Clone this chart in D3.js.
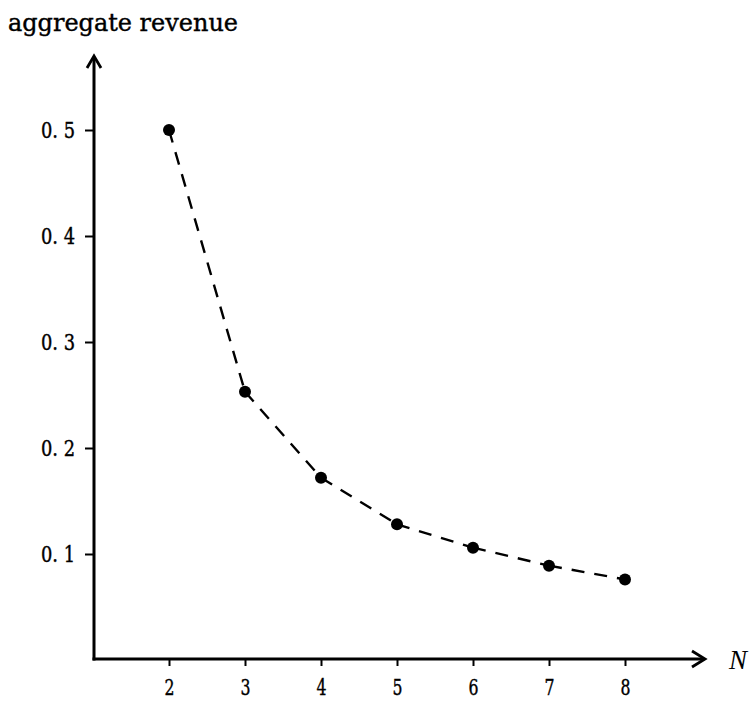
<!DOCTYPE html>
<html><head><meta charset="utf-8">
<script src="https://cdn.jsdelivr.net/npm/d3@7"></script>
<style>body{margin:0;background:#fff}svg{display:block}</style>
</head><body>
<script>
const nValues = [2, 3, 4, 5, 6, 7, 8];
const revenue = [0.5, 0.253, 0.172, 0.128, 0.106, 0.089, 0.076];
const yTicks = [0.1, 0.2, 0.3, 0.4, 0.5];
const yTickLabels = ["0. 1", "0. 2", "0. 3", "0. 4", "0. 5"];
const yTitle = "aggregate revenue";
const xTitle = "N";

const W = 755, H = 709;
const svg = d3.select("body").append("svg").attr("width", W).attr("height", H);
const x = d3.scaleLinear().domain([2, 8]).range([169, 625]);
const y = d3.scaleLinear().domain([0, 0.5]).range([660, 130]);
const x0 = 94, y0 = 659;

const font = "'DejaVu Serif Condensed', 'Liberation Serif', serif";

// axes lines
svg.append("line").attr("x1", x0).attr("y1", y0 + 1.5).attr("x2", x0).attr("y2", 57)
  .attr("stroke", "#000").attr("stroke-width", 3);
svg.append("line").attr("x1", x0 - 1.5).attr("y1", y0).attr("x2", 704).attr("y2", y0)
  .attr("stroke", "#000").attr("stroke-width", 3);
// arrowheads
svg.append("path").attr("d", `M${x0-7},${68} L${x0},${56} L${x0+7},${68}`)
  .attr("fill", "none").attr("stroke", "#000").attr("stroke-width", 2.8);
svg.append("path").attr("d", `M${692},${y0-8} L${705},${y0} L${692},${y0+8}`)
  .attr("fill", "none").attr("stroke", "#000").attr("stroke-width", 2.8);

// y axis ticks via d3 axis
const yAxis = d3.axisLeft(y).tickValues(yTicks).tickSize(9).tickPadding(10)
  .tickFormat((d, i) => yTickLabels[i]);
const gy = svg.append("g").attr("transform", `translate(${x0},0)`).call(yAxis);
gy.select(".domain").remove();
gy.selectAll(".tick line").attr("stroke", "#000").attr("stroke-width", 2);
gy.selectAll(".tick text").attr("font-family", font).attr("font-size", 23).attr("fill", "#000")
  .attr("stroke", "#000").attr("stroke-width", 0.4)
  .attr("textLength", 34).attr("lengthAdjust", "spacingAndGlyphs");

const xAxis = d3.axisBottom(x).tickValues(nValues).tickSize(7).tickPadding(13)
  .tickFormat(d3.format("d"));
const gx = svg.append("g").attr("transform", `translate(0,${y0})`).call(xAxis);
gx.select(".domain").remove();
gx.selectAll(".tick line").attr("stroke", "#000").attr("stroke-width", 2);
gx.selectAll(".tick text").attr("font-family", font).attr("font-size", 23).attr("fill", "#000")
  .attr("stroke", "#000").attr("stroke-width", 0.4)
  .attr("textLength", 10).attr("lengthAdjust", "spacingAndGlyphs");

// titles
svg.append("text").attr("x", 8).attr("y", 31).text(yTitle)
  .attr("font-family", "'DejaVu Serif', serif").attr("font-size", 24).attr("fill", "#000")
  .attr("stroke", "#000").attr("stroke-width", 0.4)
  .attr("textLength", 230).attr("lengthAdjust", "spacingAndGlyphs");
svg.append("text").attr("x", 729).attr("y", 669).text(xTitle)
  .attr("font-family", "'Liberation Serif', serif").attr("font-style", "italic").attr("font-size", 27).attr("fill", "#000");

// dashed segments (each starts with a dash at its left point)
const data = nValues.map((n, i) => ({n, v: revenue[i]}));
const segs = d3.pairs(data);
const line = d3.line().x(d => x(d.n)).y(d => y(d.v));
svg.selectAll("path.seg").data(segs).join("path").attr("class", "seg")
  .attr("d", d => line(d))
  .attr("fill", "none").attr("stroke", "#000").attr("stroke-width", 2.4)
  .attr("stroke-dasharray", "13,10");

svg.selectAll("circle.pt").data(data).join("circle").attr("class", "pt")
  .attr("cx", d => x(d.n)).attr("cy", d => y(d.v)).attr("r", 6).attr("fill", "#000");
</script>
</body></html>
